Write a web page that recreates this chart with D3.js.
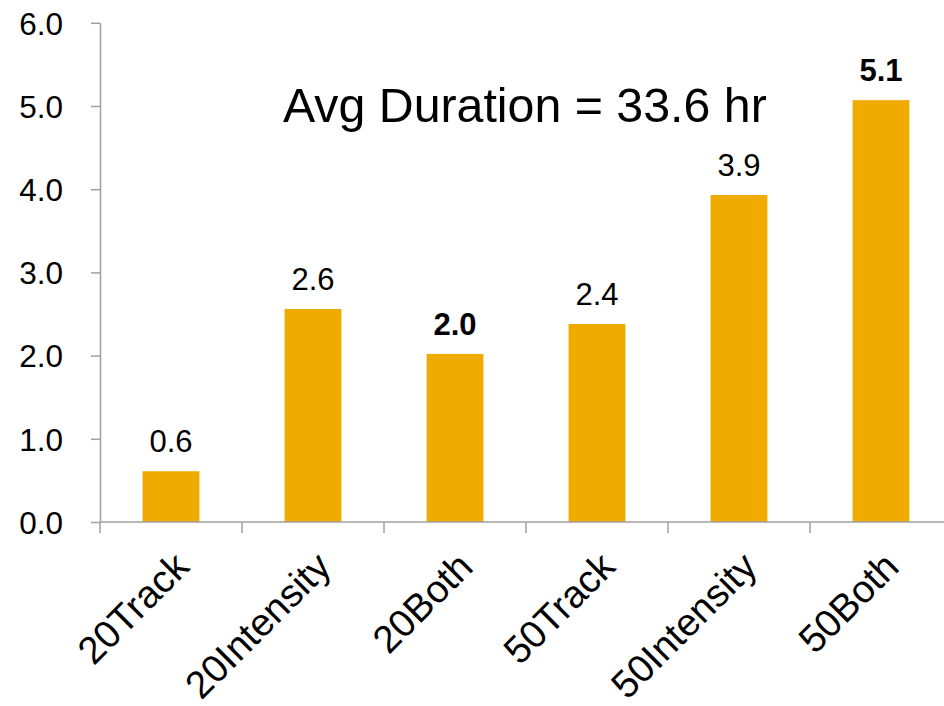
<!DOCTYPE html>
<html><head><meta charset="utf-8">
<script src="https://cdn.jsdelivr.net/npm/d3@7"></script>
<style>
html,body{margin:0;padding:0;background:#fff;}
svg{display:block;font-family:"Liberation Sans",Arial,sans-serif;}
</style></head>
<body><svg id="c" width="944" height="706"></svg>
<script>
const categories = ["20Track","20Intensity","20Both","50Track","50Intensity","50Both"];
const values = [0.61, 2.56, 2.02, 2.38, 3.93, 5.07];
const labels = ["0.6","2.6","2.0","2.4","3.9","5.1"];
const boldLabels = [false,false,true,false,false,true];
const yTicks = [0,1,2,3,4,5,6];
const title = "Avg Duration = 33.6 hr";

const svg = d3.select("#c");
const x0 = 100, x1 = 952, yTop = 22.8, yBot = 522;
const x = d3.scaleBand().domain(categories).range([x0, x1]).paddingInner(0.6).paddingOuter(0.3);
const y = d3.scaleLinear().domain([0, 6]).range([yBot, yTop]);
const axisColor = "#a0a0a0";

// y axis
const ya = svg.append("g").attr("transform", `translate(${x0},0)`)
  .call(d3.axisLeft(y).tickValues(yTicks).tickFormat(d3.format(".1f")).tickSize(9).tickPadding(28).tickSizeOuter(0));
ya.select(".domain").attr("stroke", axisColor).attr("stroke-width", 1.5);
ya.selectAll(".tick line").attr("stroke", axisColor).attr("stroke-width", 1.5);
ya.selectAll(".tick text").attr("font-size", 31.5).attr("fill", "#000").attr("font-family","Liberation Sans, Arial, sans-serif").attr("dy","0.36em");

// bars
svg.selectAll("rect.bar").data(values).join("rect").attr("class","bar")
  .attr("x", (d,i) => x(categories[i]))
  .attr("width", x.bandwidth())
  .attr("y", d => y(d))
  .attr("height", d => yBot - y(d))
  .attr("fill", "#f0ab00");

// x axis line
svg.append("line").attr("x1", x0).attr("x2", x1).attr("y1", yBot).attr("y2", yBot)
  .attr("stroke", axisColor).attr("stroke-width", 1.5);
// x ticks at band boundaries
const boundaries = d3.range(categories.length + 1).map(i => x0 + i * (x1 - x0) / categories.length);
svg.selectAll("line.xt").data(boundaries).join("line").attr("class","xt")
  .attr("x1", d => d).attr("x2", d => d).attr("y1", yBot).attr("y2", yBot + 11)
  .attr("stroke", axisColor).attr("stroke-width", 1.5);

// category labels
svg.selectAll("text.cat").data(categories).join("text").attr("class","cat")
  .attr("transform", d => `translate(${x(d) + x.bandwidth()/2 + 20},${yBot + 47}) rotate(-45)`)
  .attr("text-anchor", "end")
  .attr("font-size", 38.5)
  .attr("fill", "#000")
  .text(d => d);

// value labels
svg.selectAll("text.val").data(values).join("text").attr("class","val")
  .attr("x", (d,i) => x(categories[i]) + x.bandwidth()/2)
  .attr("y", d => y(d) - 19)
  .attr("text-anchor", "middle")
  .attr("font-size", 31)
  .attr("font-weight", (d,i) => boldLabels[i] ? "bold" : "normal")
  .attr("fill", "#000")
  .text((d,i) => labels[i]);

// title
svg.append("text").attr("x", 283).attr("y", 122).attr("font-size", 48.3).attr("fill","#000").text(title);
</script></body></html>
